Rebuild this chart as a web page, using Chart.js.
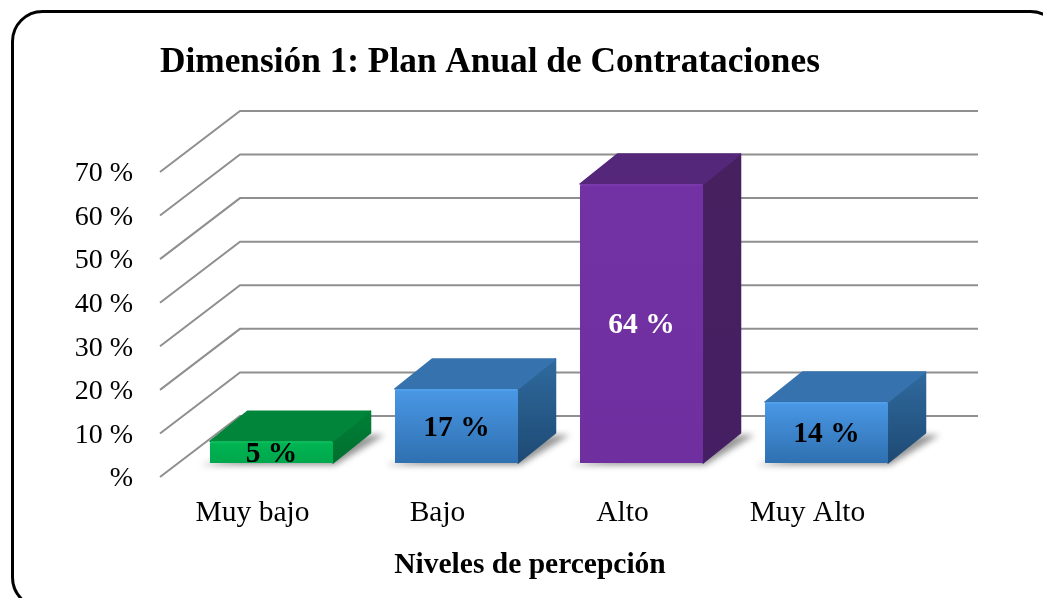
<!DOCTYPE html>
<html>
<head>
<meta charset="utf-8">
<script src="https://cdn.jsdelivr.net/npm/chart.js@4"></script>
<style>
html,body{margin:0;padding:0;background:#fff;overflow:hidden}
canvas{display:block}
</style>
</head>
<body>
<canvas id="c" width="1043" height="598" style="width:1043px;height:598px"></canvas>
<script>
const categories = ["Muy bajo", "Bajo", "Alto", "Muy Alto"];
const values = [5, 17, 64, 14];
const yTicks = [0, 10, 20, 30, 40, 50, 60, 70];
const chartTitle = "Dimensión 1: Plan Anual de Contrataciones";
const xTitle = "Niveles de percepción";
const labelColors = ["#000000", "#000000", "#ffffff", "#000000"];

const palette = [
  {front:["#00b552","#00a84c"], top:"#00853b", side:["#007f36","#006f2f"], rim:"#0cbd5c"},
  {front:["#4a98e6","#2f70b0"], top:"#3673ae", side:["#2f6a9e","#1e4a74"], rim:"#519fea"},
  {front:["#7332a4","#6f2f9f"], top:"#55277b", side:["#47205f","#451f63"], rim:"#7a38ac"},
  {front:["#4a98e6","#2f70b0"], top:"#3673ae", side:["#2f6a9e","#1e4a74"], rim:"#519fea"}
];
const serif = "'Liberation Serif','Times New Roman',serif";
const WALL = {dx:80, dy:-61};     // depth of the chart floor
const BAR_SHIFT = {dx:19, dy:-14}; // bar front plane, behind the axis plane
const BAR_DEPTH = {dx:37.5, dy:-30};

const frame = {
  id:'frame',
  beforeDraw(chart){
    const c = chart.ctx;
    c.save();
    c.beginPath();
    c.roundRect(12.5, 11.5, 1048, 596, 30);
    c.lineWidth = 3;
    c.strokeStyle = "#000";
    c.stroke();
    c.restore();
  }
};

const wall = {
  id:'wall',
  beforeDatasetsDraw(chart){
    const c = chart.ctx, y = chart.scales.y, a = chart.chartArea;
    c.save();
    c.strokeStyle = "#8f8f8f";
    c.lineWidth = 2;
    c.lineJoin = "miter";
    y.ticks.forEach(t=>{
      const py = y.getPixelForValue(t.value);
      c.beginPath();
      c.moveTo(a.left, py);
      c.lineTo(a.left+WALL.dx, py+WALL.dy);
      c.lineTo(a.right+WALL.dx-2, py+WALL.dy);
      c.stroke();
    });
    c.restore();
  }
};

const gradient = (c, y0, y1, stops) => {
  const g = c.createLinearGradient(0, y0, 0, y1);
  g.addColorStop(0, stops[0]); g.addColorStop(1, stops[1]);
  return g;
};

const bars3d = {
  id:'bars3d',
  beforeDatasetDraw(chart, args){
    const c = chart.ctx;
    const meta = chart.getDatasetMeta(args.index);
    c.save();
    c.translate(BAR_SHIFT.dx, BAR_SHIFT.dy);
    // shadows first
    meta.data.forEach(el=>{
      const p = el.getProps(['x','y','base','width'], true);
      const l = p.x-p.width/2, r = p.x+p.width/2, b = p.base;
      c.save();
      c.filter = "blur(3px)";
      c.fillStyle = "rgba(0,0,0,0.42)";
      c.beginPath();
      c.moveTo(l-10, b+2);
      c.lineTo(r+2, b+2);
      c.lineTo(r+BAR_DEPTH.dx+14, b+BAR_DEPTH.dy+2);
      c.lineTo(r+BAR_DEPTH.dx, b+BAR_DEPTH.dy+2);
      c.closePath();
      c.fill();
      c.restore();
    });
    c.lineJoin = "round";
    c.lineWidth = 1.5;
    meta.data.forEach((el,i)=>{
      const p = el.getProps(['x','y','base','width'], true);
      const l = p.x-p.width/2, r = p.x+p.width/2, t = p.y, b = p.base;
      const d = BAR_DEPTH, col = palette[i];
      // side face
      c.fillStyle = c.strokeStyle = gradient(c, t+d.dy, b, col.side);
      c.beginPath();
      c.moveTo(r, t); c.lineTo(r+d.dx, t+d.dy); c.lineTo(r+d.dx, b+d.dy); c.lineTo(r, b);
      c.closePath(); c.fill(); c.stroke();
      // top face
      c.fillStyle = c.strokeStyle = col.top;
      c.beginPath();
      c.moveTo(l, t); c.lineTo(l+d.dx, t+d.dy); c.lineTo(r+d.dx, t+d.dy); c.lineTo(r, t);
      c.closePath(); c.fill(); c.stroke();
    });
  },
  afterDatasetDraw(chart, args){
    const c = chart.ctx;
    const meta = chart.getDatasetMeta(args.index);
    meta.data.forEach((el,i)=>{
      const p = el.getProps(['x','y','base','width'], true);
      const l = p.x-p.width/2, r = p.x+p.width/2, t = p.y;
      c.strokeStyle = palette[i].rim;
      c.lineWidth = 2;
      c.beginPath();
      c.moveTo(l+1, t+1); c.lineTo(r-1, t+1);
      c.stroke();
    });
    c.restore();
  },
  afterDatasetsDraw(chart){
    const c = chart.ctx;
    const meta = chart.getDatasetMeta(0);
    c.save();
    c.font = "bold 29.5px " + serif;
    c.textAlign = "center";
    c.textBaseline = "middle";
    meta.data.forEach((el,i)=>{
      const p = el.getProps(['x','y','base'], true);
      c.fillStyle = labelColors[i];
      c.fillText(values[i] + " %", p.x+BAR_SHIFT.dx, (p.y+p.base)/2+BAR_SHIFT.dy+2);
    });
    c.restore();
  }
};

new Chart(document.getElementById('c'), {
  type:'bar',
  data:{
    labels:categories,
    datasets:[{
      data:values,
      categoryPercentage:1,
      barPercentage:0.665,
      borderWidth:0,
      borderRadius:2,
      backgroundColor(ctx){
        const a = ctx.chart.chartArea;
        if(!a) return palette[ctx.dataIndex].front[0];
        const top = ctx.chart.scales.y.getPixelForValue(values[ctx.dataIndex]);
        return gradient(ctx.chart.ctx, top, a.bottom, palette[ctx.dataIndex].front);
      }
    }]
  },
  plugins:[frame, wall, bars3d],
  options:{
    responsive:false,
    animation:false,
    layout:{padding:{left:0,right:143,top:0,bottom:0}},
    plugins:{
      legend:{display:false},
      tooltip:{enabled:false},
      title:{
        display:true,
        text:chartTitle,
        align:'start',
        fullSize:false,
        color:'#000',
        font:{family:serif,size:35.3,weight:'bold',lineHeight:1.2},
        padding:{top:42,bottom:87.6}
      }
    },
    scales:{
      x:{
        grid:{display:false,drawTicks:false},
        border:{display:false},
        afterFit(s){ s.height = 121; },
        ticks:{color:'#000',padding:19,maxRotation:0,font:{family:serif,size:29.5}},
        title:{display:true,text:xTitle,color:'#000',font:{family:serif,size:29.5,weight:'bold'},padding:{top:0,bottom:15}}
      },
      y:{
        min:yTicks[0],
        max:yTicks[yTicks.length-1],
        afterFit(s){ s.width = 160; },
        afterBuildTicks(s){ s.ticks = yTicks.map(v=>({value:v})); },
        grid:{display:false,drawTicks:false},
        border:{display:false},
        ticks:{
          color:'#000',
          padding:27,
          labelOffset:2,
          font:{family:serif,size:28},
          callback(v){ return v === 0 ? '%' : v + ' %'; }
        }
      }
    }
  }
});
</script>
</body>
</html>
